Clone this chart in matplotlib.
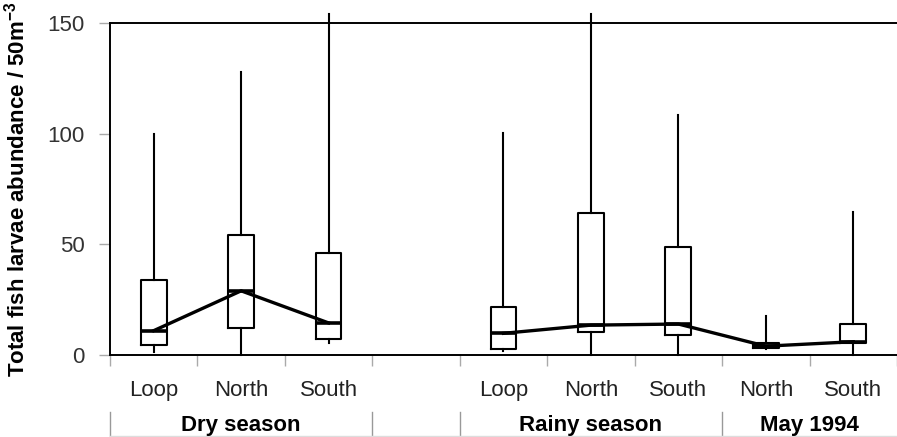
import matplotlib.pyplot as plt
from matplotlib.transforms import blended_transform_factory

plt.rcParams['font.family'] = ['Liberation Sans', 'DejaVu Sans']
plt.rcParams['mathtext.fontset'] = 'custom'
plt.rcParams['mathtext.rm'] = 'Liberation Sans'
plt.rcParams['mathtext.bf'] = 'Liberation Sans:bold'

# Data
sites = ["Loop", "North", "South", "Loop", "North", "South", "North", "South"]
positions = [0.5, 1.5, 2.5, 4.5, 5.5, 6.5, 7.5, 8.5]
whis_hi = [100, 128, 154, 100.5, 154, 108.5, 17.5, 64.5]
upper_q = [34, 54, 46, 21.5, 64, 49, 5.5, 14]
medians = [11, 29, 14.5, 9.8, 13.5, 14, 4, 6]
lower_q = [4.5, 12, 7.3, 2.7, 10.3, 9, 3, 5.4]
whis_lo = [1.5, 0, 5.5, 2, 0, 0, 2.5, 0]

groups = ["Dry season", "Rainy season", "May 1994"]
group_centers = [1.5, 5.5, 8.0]
group_edges = [0, 3, 4, 7]

# median line segments (dry season / rainy + May)
seg1 = slice(0, 3)
seg2 = slice(3, 8)

fig = plt.figure(figsize=(8.97, 4.37), dpi=100)
ax = fig.add_axes([0.1226, 0.1876, 0.8774, 0.7598])

stats = []
for i in range(len(sites)):
    stats.append({"med": medians[i], "q1": lower_q[i], "q3": upper_q[i],
                  "whislo": whis_lo[i], "whishi": whis_hi[i], "fliers": []})

parts = ax.bxp(stats, positions=positions, widths=0.295, showfliers=False,
               showcaps=False, manage_ticks=False,
               boxprops=dict(color="black", linewidth=1.5),
               whiskerprops=dict(color="black", linewidth=1.5),
               medianprops=dict(color="black", linewidth=2.6))
for w in parts["whiskers"]:
    w.set_clip_on(False)

ax.plot(positions[seg1], medians[seg1], color="black", lw=2.4, clip_on=False)
ax.plot(positions[seg2], medians[seg2], color="black", lw=2.4, clip_on=False)

ax.set_xlim(0, 8.913)
ax.set_ylim(0, 150)

for s in ["left", "top", "bottom"]:
    ax.spines[s].set_linewidth(1.4)
ax.spines["right"].set_visible(False)

ax.set_yticks([0, 50, 100, 150])
ax.set_xticks(range(0, 10))
ax.set_xticklabels([])
ax.tick_params(axis="y", length=8, width=1, color="#aaaaaa", labelsize=16,
               labelcolor="#333333", pad=10)
ax.tick_params(axis="x", length=8, width=1, color="#aaaaaa")

ax.set_ylabel(r"Total fish larvae abundance / 50m$^{\mathbf{-3}}$",
              fontsize=16, fontweight="bold")
ax.yaxis.set_label_coords(-0.102, 0.5)

trans = blended_transform_factory(ax.transData, ax.transAxes)
for x, lab in zip(positions, sites):
    ax.text(x, -0.108, lab, transform=trans, ha="center", va="center",
            fontsize=16, color="#222222")
for x, lab in zip(group_centers, groups):
    ax.text(x, -0.212, lab, transform=trans, ha="center", va="center",
            fontsize=16, fontweight="bold")
for x in group_edges:
    ax.plot([x, x], [-0.172, -0.26], transform=trans, color="#999999",
            lw=1, clip_on=False)
ax.plot([0, 9], [-0.243, -0.243], transform=trans, color="#dddddd",
        lw=1, clip_on=False)

fig.savefig("out.png", dpi=100)
